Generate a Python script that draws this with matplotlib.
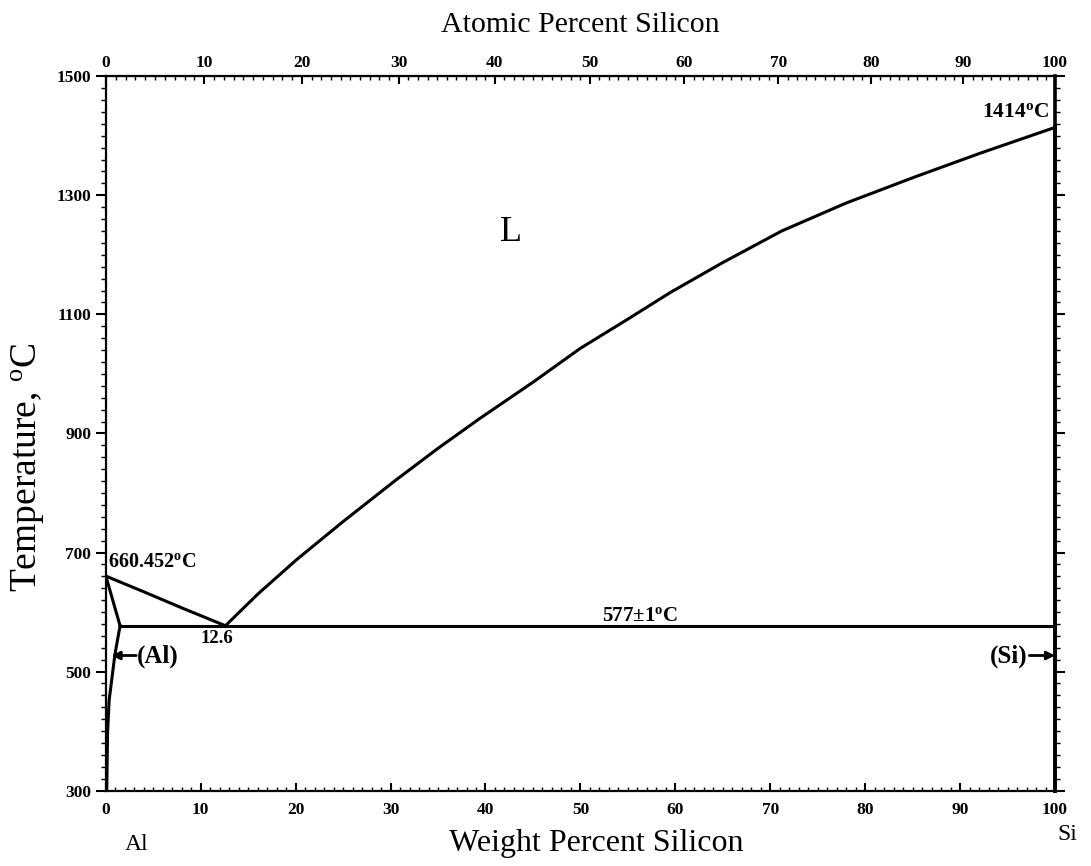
import numpy as np
import matplotlib
matplotlib.use('Agg')
import matplotlib.pyplot as plt
from matplotlib.ticker import MultipleLocator, FixedLocator

# ---- data (wt% Si, deg C) ----
w_liq_al = [0.0, 4.0, 8.0, 12.6]
T_liq_al = [660.452, 634, 607, 577]

w_liq_si = [12.6, 16.0, 20.1, 25.0, 30.5, 35.0, 39.3, 45.0, 50.0, 55.0,
            59.5, 65.0, 71.2, 78.0, 85.1, 92.0, 100.0]
T_liq_si = [577, 630, 688, 752, 821, 875, 924, 986, 1043, 1092,
            1137, 1187, 1240, 1287, 1330, 1370, 1414]

w_solidus = [0.0, 1.5]
T_solidus = [660.452, 577]

w_solvus = [1.5, 0.95, 0.35, 0.18, 0.1]
T_solvus = [577, 528, 452, 396, 300]

w_eut = [1.5, 100.0]
T_eut = [577, 577]

w_si = [100.0, 100.0]
T_si = [300, 1414]

temp_ticks = [300, 500, 700, 900, 1100, 1300, 1500]
pct_ticks = list(range(0, 101, 10))

M_AL, M_SI = 26.98154, 28.0855


def wt2at(w):
    w = np.asarray(w, dtype=float)
    a = w / M_SI
    b = (100 - w) / M_AL
    return 100 * a / np.where(a + b == 0, 1, a + b)


def at2wt(x):
    x = np.asarray(x, dtype=float)
    a = x * M_SI
    b = (100 - x) * M_AL
    return 100 * a / np.where(a + b == 0, 1, a + b)


plt.rcParams['font.family'] = ['Liberation Serif', 'DejaVu Serif']
plt.rcParams['mathtext.fontset'] = 'custom'
plt.rcParams['mathtext.rm'] = 'Liberation Serif'
plt.rcParams['mathtext.bf'] = 'Liberation Serif:bold'

fig = plt.figure(figsize=(10.91, 8.66), dpi=100)
ax = fig.add_axes([0.097, 0.087, 0.870, 0.825])

lw = 2.2
ax.plot(w_liq_al, T_liq_al, color='k', lw=lw)
ax.plot(w_liq_si, T_liq_si, color='k', lw=lw)
ax.plot(w_solidus, T_solidus, color='k', lw=lw)
ax.plot(w_solvus, T_solvus, color='k', lw=lw)
ax.plot(w_eut, T_eut, color='k', lw=lw)
ax.plot(w_si, T_si, color='k', lw=2.6, clip_on=False)

ax.set_xlim(0, 100)
ax.set_ylim(300, 1500)

# ticks
ax.xaxis.set_major_locator(FixedLocator(pct_ticks))
ax.xaxis.set_minor_locator(MultipleLocator(1))
ax.yaxis.set_major_locator(FixedLocator(temp_ticks))
ax.yaxis.set_minor_locator(MultipleLocator(20))
ax.tick_params(axis='x', which='both', direction='in', top=False)
ax.tick_params(axis='x', which='major', length=6, width=1.5, pad=8)
ax.tick_params(axis='x', which='minor', length=3, width=1)
ax.tick_params(axis='y', which='both', direction='out', right=True)
ax.tick_params(axis='y', which='major', length=7, width=1.5)
ax.tick_params(axis='y', which='minor', length=3.5, width=1)
for lab in ax.get_xticklabels() + ax.get_yticklabels():
    lab.set_fontweight('bold')
    lab.set_fontsize(12.5)

for s in ['left', 'top', 'bottom']:
    ax.spines[s].set_linewidth(1.6)
ax.spines['right'].set_linewidth(2.6)

top = ax.secondary_xaxis('top', functions=(wt2at, at2wt))
top.xaxis.set_major_locator(FixedLocator(pct_ticks))
top.xaxis.set_minor_locator(FixedLocator(list(range(0, 101))))
top.tick_params(which='both', direction='in')
top.tick_params(which='major', length=6, width=1.5, labelsize=12.5, pad=4)
top.tick_params(which='minor', length=3, width=1)
for lab in top.get_xticklabels():
    lab.set_fontweight('bold')
top.set_xlabel('Atomic Percent Silicon', fontsize=21.5, labelpad=16)

ax.set_xlabel('Weight Percent Silicon', fontsize=23)
ax.xaxis.set_label_coords(0.517, -0.054)
ax.set_ylabel('Temperature, $\\mathregular{^{o}}$C', fontsize=27)
ax.yaxis.set_label_coords(-0.062, 0.453)

# annotations
bold = dict(fontweight='bold')
ax.text(42.7, 1237, 'L', fontsize=26, ha='center', va='center')
ax.text(0.2, 667, '660.452$\\mathbf{^{o}}$C', fontsize=14.5, ha='left', va='bottom', **bold)
ax.text(11.7, 555, '12.6', fontsize=13.5, ha='center', va='center', **bold)
ax.text(56.3, 594, '577\u00b11$\\mathbf{^{o}}$C', fontsize=15, ha='center', va='center', **bold)
ax.text(99.4, 1440, '1414$\\mathbf{^{o}}$C', fontsize=15.5, ha='right', va='center', **bold)

arrow = dict(arrowstyle='-|>', lw=2, color='k', mutation_scale=12, shrinkA=0, shrinkB=0)
ax.annotate('', xy=(0.6, 527), xytext=(3.2, 527), arrowprops=arrow)
ax.text(3.3, 525, '(Al)', fontsize=18, ha='left', va='center', **bold)
ax.annotate('', xy=(100, 527), xytext=(97.3, 527), arrowprops=arrow)
ax.text(97.1, 525, '(Si)', fontsize=18, ha='right', va='center', **bold)

ax.text(3.2, 209, 'Al', fontsize=17, ha='center', va='center', clip_on=False)
ax.text(101.3, 226, 'Si', fontsize=17, ha='center', va='center', clip_on=False)

fig.savefig('out.png', dpi=100)
